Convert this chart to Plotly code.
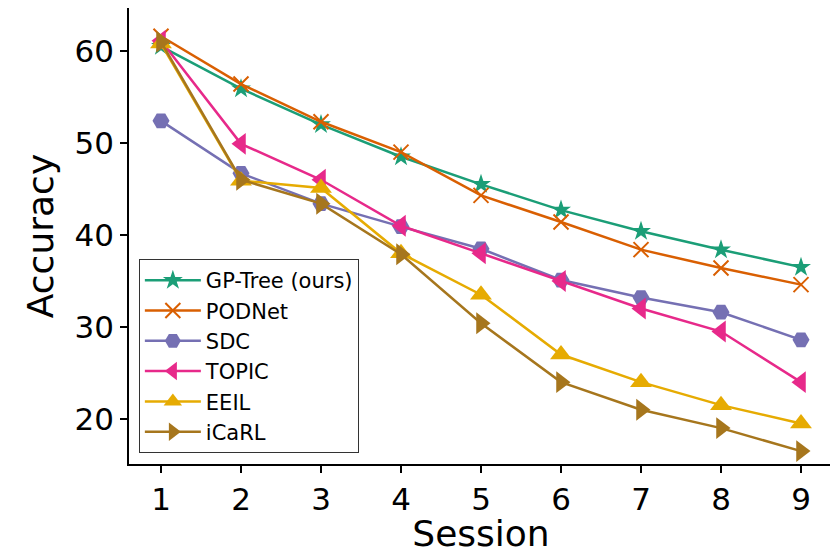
import plotly.graph_objects as go

sessions = [1, 2, 3, 4, 5, 6, 7, 8, 9]
gp_tree = [60.5, 55.9, 52.0, 48.5, 45.5, 42.7, 40.4, 38.4, 36.5]
podnet = [61.6, 56.4, 52.3, 49.0, 44.3, 41.4, 38.4, 36.4, 34.6]
sdc = [52.4, 46.7, 43.4, 40.9, 38.5, 35.1, 33.2, 31.6, 28.6]
topic = [61.1, 49.9, 46.0, 41.0, 38.0, 35.0, 32.0, 29.5, 24.0]
eeil = [60.8, 45.9, 45.1, 38.0, 33.5, 27.0, 24.0, 21.5, 19.5]
icarl = [61.0, 46.0, 43.4, 37.9, 30.4, 24.0, 21.0, 19.0, 16.5]

series = [
    ("GP-Tree (ours)", gp_tree, "#1b9e77", "star", 15),
    ("PODNet", podnet, "#d95f02", "x-thin", 15),
    ("SDC", sdc, "#7570b3", "hexagon2", 17),
    ("TOPIC", topic, "#e7298a", "triangle-left", 19),
    ("EEIL", eeil, "#e6ab02", "triangle-up", 19),
    ("iCaRL", icarl, "#a6761d", "triangle-right", 19),
]

fig = go.Figure()
for name, vals, color, sym, size in series:
    marker = dict(symbol=sym, size=size, color=color)
    if sym == "x-thin":
        marker["line"] = dict(color=color, width=2)
    else:
        marker["line"] = dict(width=0)
    fig.add_trace(go.Scatter(
        x=sessions, y=vals, name=name, mode="lines+markers",
        line=dict(color=color, width=2.5), marker=marker,
    ))

fig.update_layout(
    width=830, height=546,
    margin=dict(l=121, r=5, t=0, b=90),
    paper_bgcolor="white", plot_bgcolor="white",
    font=dict(family="DejaVu Sans", color="black"),
    showlegend=True,
    legend=dict(
        x=0.014, y=0.024, xanchor="left", yanchor="bottom",
        bgcolor="rgba(255,255,255,0.8)", bordercolor="#333333", borderwidth=1,
        font=dict(size=21, family="DejaVu Sans"),
        itemwidth=56, tracegroupgap=0,
    ),
)
fig.update_xaxes(
    range=[0.6, 9.4], tickvals=sessions, ticktext=[str(s) for s in sessions],
    showgrid=False, zeroline=False, automargin=False,
    showline=True, linecolor="black", linewidth=1.5,
    ticks="outside", ticklen=7, tickwidth=1.5, tickcolor="black",
    tickfont=dict(size=31),
    title=dict(text="Session", font=dict(size=36), standoff=6),
)
fig.update_yaxes(
    range=[15.1, 64.67], tickvals=[20, 30, 40, 50, 60],
    showgrid=False, zeroline=False, automargin=False,
    showline=True, linecolor="black", linewidth=1.5,
    ticks="outside", ticklen=7, tickwidth=1.5, tickcolor="black",
    tickfont=dict(size=31),
    title=dict(text="Accuracy", font=dict(size=36), standoff=10),
)

fig.write_html("out.html")
